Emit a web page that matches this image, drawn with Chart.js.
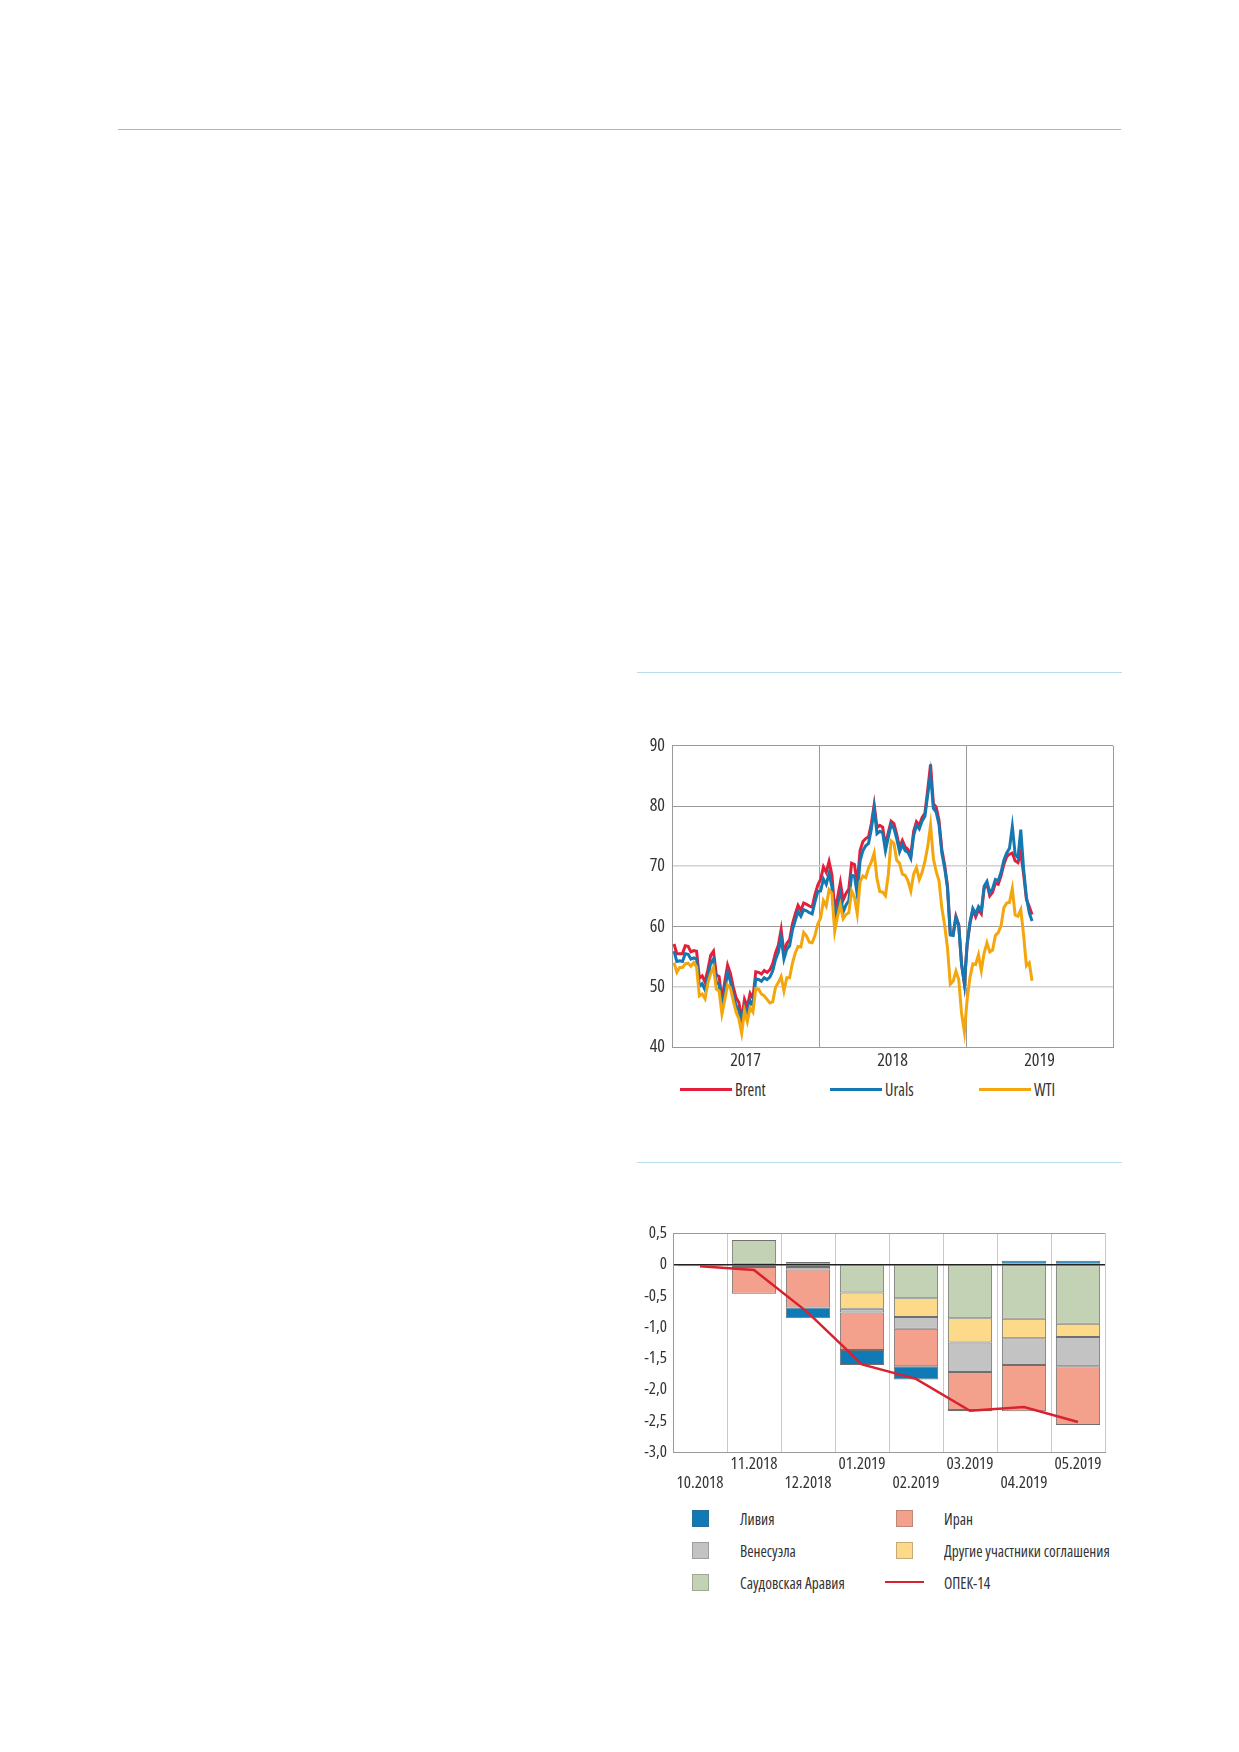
<!DOCTYPE html>
<html>
<head>
<meta charset="utf-8">
<script src="https://cdn.jsdelivr.net/npm/chart.js@4.4.1/dist/chart.umd.min.js"></script>
<style>
  body {
    margin: 0;
    width: 1239px;
    height: 1752px;
    position: relative;
    background: #fff;
    font-family: "Open Sans", sans-serif;
    font-stretch: condensed;
    color: #333;
  }
  .rule { position: absolute; height: 0; }
  .box { position: absolute; }
  .txt { display: inline-block; transform: scaleX(0.9); transform-origin: left center; white-space: nowrap; }
  #priceLegend { position: absolute; left: 680px; top: 1077px; display: flex; }
  #priceLegend .item { width: 149.5px; display: flex; align-items: center; height: 24px; font-size: 18px; }
  #priceLegend .swatch { width: 52px; height: 3px; margin-right: 3px; }
  #opecLegend { position: absolute; left: 692px; top: 1502px; display: grid; grid-template-columns: 204px 240px; grid-auto-rows: 32px; }
  #opecLegend .item { display: flex; align-items: center; font-size: 17px; white-space: nowrap; }
  #opecLegend .mark { width: 17px; height: 17px; margin-right: 31px; position: relative; flex: none; }
  #opecLegend .mark.line::before {
    content: ""; position: absolute; left: -11px; width: 39px; top: 7px; height: 2.5px; background: currentColor;
  }
</style>
</head>
<body>
<div class="rule" style="left:118px; top:129px; width:1003px; border-top:1.5px solid #b4b4b4;"></div>

<div class="rule" style="left:637px; top:672px; width:485px; border-top:1.5px solid #b7dcea;"></div>
<div class="box" style="left:620px; top:728px; width:500px; height:349px;"><canvas id="priceChart"></canvas></div>
<div id="priceLegend"></div>

<div class="rule" style="left:637px; top:1162px; width:485px; border-top:1.5px solid #b7dcea;"></div>
<div class="box" style="left:620px; top:1217px; width:492px; height:283px;"><canvas id="opecChart"></canvas></div>
<div id="opecLegend"></div>

<script>
// ---- oil prices, weekly (Friday) values from Jan 6 2017, USD/bbl ----
var years = ['2017', '2018', '2019'];
var priceTicks = [40, 50, 60, 70, 80, 90];

var brent = [
  57.1, 55.5, 55.5, 55.5, 56.8, 56.7, 55.8, 56.0, 55.9, 51.4, 51.8, 50.8, 52.8,
  55.2, 55.9, 52.0, 51.7, 47.8, 50.8, 53.6, 52.2, 50.0, 48.2, 47.4, 44.6, 47.9,
  46.7, 48.9, 48.1, 52.5, 52.4, 52.1, 52.7, 52.4, 52.8, 53.8, 55.6, 56.9, 59.5,
  55.6, 57.2, 57.8, 60.4, 62.1, 63.5, 62.7, 63.9, 63.7, 63.4, 63.2, 65.3, 66.9,
  67.8, 69.9, 69.0, 70.8, 68.6, 62.8, 64.8, 67.3, 64.4, 65.5, 66.2, 70.5, 70.3,
  67.1, 72.6, 74.1, 74.6, 74.9, 77.1, 80.2, 76.4, 76.8, 76.5, 73.4, 75.6, 77.5,
  77.1, 75.3, 73.1, 74.3, 73.2, 72.8, 71.8, 75.8, 77.4, 76.8, 78.1, 78.8, 82.7,
  86.9, 80.4, 79.8, 77.6, 72.8, 70.2, 66.8, 58.8, 58.7, 61.7, 60.3, 53.8, 50.5,
  57.1, 60.5, 62.7, 61.6, 62.8, 62.1, 66.3, 67.1, 65.1, 65.7, 67.2, 67.0, 68.4,
  70.3, 71.6, 72.0, 72.2, 70.9, 70.6, 72.2, 68.7, 64.5, 63.3, 62.0
];
var urals = [
  55.9, 54.2, 54.3, 54.2, 55.5, 55.4, 54.6, 54.8, 54.6, 50.1, 50.5, 49.5, 51.6,
  53.9, 54.6, 50.7, 50.4, 46.5, 49.5, 52.3, 50.9, 48.7, 46.9, 46.1, 43.4, 46.7,
  45.5, 47.7, 46.9, 51.3, 51.2, 50.9, 51.5, 51.2, 51.6, 52.6, 54.5, 55.7, 58.2,
  54.6, 56.2, 56.8, 59.4, 61.0, 62.5, 61.7, 62.8, 62.6, 62.3, 62.1, 64.1, 65.8,
  65.9, 67.9, 67.0, 68.8, 66.6, 60.9, 62.9, 65.3, 62.4, 63.6, 64.3, 68.5, 68.4,
  65.3, 70.9, 72.6, 73.4, 73.8, 76.2, 79.6, 75.4, 75.8, 75.6, 72.6, 74.8, 76.9,
  76.3, 74.6, 72.4, 73.6, 72.6, 72.3, 71.3, 75.1, 76.8, 76.2, 77.5, 78.3, 81.9,
  85.3, 79.6, 79.0, 76.9, 72.2, 69.7, 66.4, 58.6, 58.5, 61.5, 60.1, 53.7, 50.5,
  57.3, 60.8, 63.0, 62.1, 63.3, 62.6, 66.7, 67.5, 65.6, 66.3, 67.8, 67.6, 69.0,
  71.0, 72.2, 73.0, 76.6, 72.0, 71.4, 76.1, 69.6, 64.9, 62.3, 60.9
];
var wti = [
  54.0, 52.4, 53.2, 53.2, 53.8, 53.9, 53.4, 54.0, 53.3, 48.5, 48.8, 48.0, 50.6,
  52.2, 53.2, 49.6, 49.3, 45.5, 47.8, 50.3, 49.8, 47.7, 45.8, 44.7, 42.3, 46.0,
  44.2, 46.5, 45.8, 49.7, 49.6, 48.8, 48.5, 47.9, 47.3, 47.5, 49.9, 50.7, 51.7,
  49.3, 51.5, 51.5, 53.9, 55.6, 56.7, 56.6, 59.0, 58.4, 57.4, 57.3, 58.5, 60.4,
  61.4, 64.3, 63.4, 66.1, 65.5, 59.2, 61.7, 63.6, 61.3, 62.0, 62.3, 65.9, 64.9,
  62.1, 67.4, 68.4, 68.1, 69.7, 70.7, 72.2, 67.9, 65.8, 65.7, 65.1, 68.6, 74.2,
  73.8, 71.0, 70.5, 68.7, 68.5, 67.6, 65.9, 68.7, 69.8, 67.8, 69.0, 70.8, 73.3,
  76.8, 71.3, 69.1, 67.6, 63.1, 60.2, 56.5, 50.4, 50.9, 52.6, 51.2, 45.6, 42.5,
  48.0, 51.6, 53.8, 53.7, 55.3, 52.7, 55.6, 57.3, 55.8, 56.1, 58.5, 59.0, 60.1,
  63.1, 63.9, 64.0, 66.3, 61.9, 61.7, 62.8, 58.6, 53.5, 54.0, 51.0
];

// ---- OPEC production change vs Oct 2018, mb/d ----
var months = ['10.2018', '11.2018', '12.2018', '01.2019', '02.2019', '03.2019', '04.2019', '05.2019'];
var saudi     = [null, 0.39, -0.04, -0.45, -0.54, -0.86, -0.87, -0.95];
var others    = [-0.03, -0.01, 0.04, -0.26, -0.30, -0.39, -0.31, -0.21];
var venezuela = [null, -0.03, -0.04, -0.06, -0.19, -0.47, -0.43, -0.47];
var iran      = [null, -0.43, -0.61, -0.60, -0.60, -0.61, -0.74, -0.94];
var libya     = [null, null, -0.17, -0.24, -0.21, -0.02, 0.06, 0.06];
var opec14    = [-0.03, -0.09, -0.77, -1.60, -1.83, -2.34, -2.28, -2.52];
var opecTicks = ['-3,0', '-2,5', '-2,0', '-1,5', '-1,0', '-0,5', '0', '0,5'];

// condensed Open Sans; the stretch keyword rides in the weight slot of the canvas font string
Chart.defaults.font.family = '"Open Sans", sans-serif';
Chart.defaults.font.weight = 'condensed';
Chart.defaults.color = '#333';

function weekly(values) {
  return values.map(function (v, i) { return { x: (5 + 7 * i) / 365, y: v }; });
}

var priceSeries = [
  { label: 'Brent', color: '#e2203b', data: brent, order: 3 },
  { label: 'Urals', color: '#1479b3', data: urals, order: 2 },
  { label: 'WTI', color: '#f4a60c', data: wti, order: 1 }
];

new Chart(document.getElementById('priceChart'), {
  type: 'line',
  data: {
    datasets: priceSeries.map(function (s) {
      return {
        label: s.label,
        data: weekly(s.data),
        borderColor: s.color,
        borderWidth: 3,
        pointRadius: 0,
        tension: 0,
        order: s.order
      };
    })
  },
  options: {
    responsive: true,
    maintainAspectRatio: false,
    animation: false,
    layout: { padding: { top: 2, right: 7 } },
    scales: {
      x: {
        type: 'linear',
        min: 0,
        max: 3,
        afterBuildTicks: function (scale) {
          scale.ticks = [0, 0.5, 1, 1.5, 2, 2.5, 3].map(function (v) { return { value: v }; });
        },
        afterFit: function (scale) { scale.height = 30; },
        ticks: {
          autoSkip: false,
          maxRotation: 0,
          padding: 3,
          font: { size: 18 },
          callback: function (v) { return v % 1 === 0.5 ? years[Math.floor(v)] : ''; }
        },
        grid: {
          drawTicks: false,
          color: function (c) { return c.tick && c.tick.value % 1 === 0 ? '#9a9a9a' : 'rgba(0,0,0,0)'; }
        },
        border: { color: '#9a9a9a' }
      },
      y: {
        min: priceTicks[0],
        max: priceTicks[priceTicks.length - 1],
        afterFit: function (scale) { scale.width = 52; },
        ticks: { stepSize: 10, padding: 7, font: { size: 18, lineHeight: 1.2 } },
        grid: {
          drawTicks: false,
          color: function (c) { return c.tick.value === 70 || c.tick.value === 50 ? '#d2d2d2' : '#9a9a9a'; },
          lineWidth: function (c) { return c.tick.value === 70 || c.tick.value === 50 ? 1.6 : 1; }
        },
        border: { color: '#9a9a9a' }
      }
    },
    plugins: { legend: { display: false }, tooltip: { enabled: false } }
  }
});

var priceLegend = document.getElementById('priceLegend');
priceSeries.forEach(function (s) {
  var item = document.createElement('div');
  item.className = 'item';
  item.innerHTML = '<span class="swatch" style="background:' + s.color + '"></span><span class="txt">' + s.label + '</span>';
  priceLegend.appendChild(item);
});

var opecSeries = [
  { label: 'Саудовская Аравия', color: '#c3d2b4', data: saudi },
  { label: 'Другие участники соглашения', color: '#fdd98a', data: others },
  { label: 'Венесуэла', color: '#c3c3c3', data: venezuela },
  { label: 'Иран', color: '#f3a08d', data: iran },
  { label: 'Ливия', color: '#0f7ab6', data: libya }
];

var opecDatasets = opecSeries.map(function (s) {
  return {
    type: 'bar',
    label: s.label,
    data: s.data,
    backgroundColor: s.color,
    borderColor: '#6f6f6f',
    borderWidth: 1,
    borderSkipped: false,
    barPercentage: 0.82,
    categoryPercentage: 1,
    stack: 'countries',
    order: 1
  };
});
opecDatasets.push({
  type: 'line',
  label: 'ОПЕК-14',
  data: opec14,
  borderColor: '#d9222f',
  borderWidth: 2.5,
  pointRadius: 0,
  tension: 0,
  stack: 'total',
  order: 0
});

new Chart(document.getElementById('opecChart'), {
  type: 'bar',
  data: {
    labels: months.map(function (m, i) { return i % 2 ? [m, ''] : ['', m]; }),
    datasets: opecDatasets
  },
  options: {
    responsive: true,
    maintainAspectRatio: false,
    animation: false,
    layout: { padding: { top: 2, right: 7 } },
    scales: {
      x: {
        stacked: true,
        afterFit: function (scale) { scale.height = 48; },
        ticks: { autoSkip: false, maxRotation: 0, padding: 3, font: { size: 17, lineHeight: 1.1 } },
        grid: { drawTicks: false, color: '#c9c9c9', offset: true },
        border: { color: '#9a9a9a' }
      },
      y: {
        stacked: true,
        min: -3,
        max: 0.5,
        afterFit: function (scale) { scale.width = 53; },
        ticks: {
          stepSize: 0.5,
          padding: 6,
          font: { size: 17, lineHeight: 1.2 },
          callback: function (v, i) { return opecTicks[i]; }
        },
        grid: {
          drawTicks: false,
          color: function (c) {
            if (c.tick.value === 0) return '#222';
            return c.tick.value === 0.5 ? '#9a9a9a' : 'rgba(0,0,0,0)';
          },
          lineWidth: function (c) { return c.tick.value === 0 ? 1.5 : 1; }
        },
        border: { color: '#9a9a9a' }
      }
    },
    plugins: { legend: { display: false }, tooltip: { enabled: false } }
  }
});

// legend: two columns, same order as the original
var legendOrder = ['Ливия', 'Иран', 'Венесуэла', 'Другие участники соглашения', 'Саудовская Аравия', 'ОПЕК-14'];
var opecLegend = document.getElementById('opecLegend');
legendOrder.forEach(function (name) {
  var ds = opecDatasets.filter(function (d) { return d.label === name; })[0];
  var item = document.createElement('div');
  item.className = 'item';
  if (ds.type === 'line') {
    item.innerHTML = '<span class="mark line" style="color:' + ds.borderColor + '"></span><span class="txt">' + name + '</span>';
  } else {
    item.innerHTML = '<span class="mark" style="background:' + ds.backgroundColor + ';box-shadow:inset 0 0 0 1px rgba(90,90,90,0.35)"></span><span class="txt">' + name + '</span>';
  }
  opecLegend.appendChild(item);
});
</script>
</body>
</html>
